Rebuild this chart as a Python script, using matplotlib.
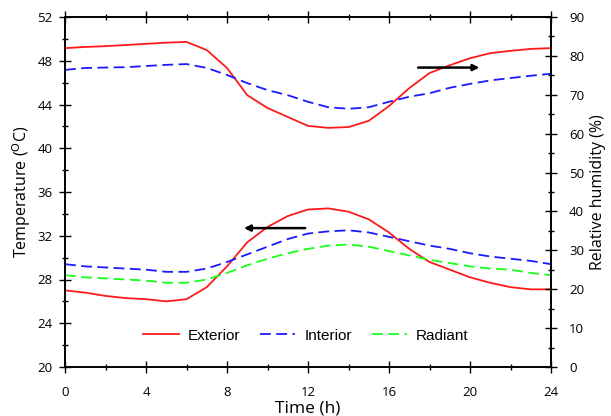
import matplotlib
matplotlib.use("Agg")
import matplotlib.pyplot as plt
from matplotlib.ticker import MultipleLocator

# Datos
horas = list(range(25))

temp_exterior = [27.0, 26.8, 26.5, 26.3, 26.2, 26.0, 26.2, 27.3, 29.2, 31.4, 32.8, 33.8, 34.4,
                 34.5, 34.2, 33.5, 32.3, 30.8, 29.6, 28.9, 28.2, 27.7, 27.3, 27.1, 27.1]
temp_interior = [29.4, 29.2, 29.1, 29.0, 28.9, 28.7, 28.7, 29.0, 29.6, 30.3, 31.0, 31.7, 32.2,
                 32.4, 32.5, 32.3, 31.9, 31.5, 31.1, 30.8, 30.4, 30.1, 29.9, 29.7, 29.4]
temp_radiante = [28.4, 28.2, 28.1, 28.0, 27.9, 27.7, 27.7, 28.0, 28.6, 29.3, 29.9, 30.4, 30.8,
                 31.1, 31.2, 31.0, 30.6, 30.2, 29.8, 29.5, 29.2, 29.0, 28.9, 28.6, 28.4]

hr_exterior = [82.0, 82.3, 82.5, 82.8, 83.1, 83.4, 83.6, 81.5, 76.9, 69.9, 66.6, 64.3, 62.0,
               61.5, 61.7, 63.3, 67.1, 71.7, 75.6, 77.6, 79.4, 80.7, 81.3, 81.8, 82.0]
hr_interior = [76.4, 76.9, 77.0, 77.1, 77.4, 77.7, 77.9, 76.9, 75.1, 73.0, 71.2, 69.9, 68.2,
               66.8, 66.4, 66.8, 68.2, 69.5, 70.4, 71.8, 72.8, 73.7, 74.3, 74.9, 75.4]

rojo = "#ff1a1a"
azul = "#1a1aff"
verde = "#1aff1a"

plt.rcParams["font.family"] = ["Open Sans", "DejaVu Sans"]

fig = plt.figure(figsize=(6.11, 4.16), dpi=100)
ax = fig.add_axes([0.1064, 0.1178, 0.7954, 0.8413])
ax2 = ax.twinx()

l1, = ax.plot(horas, temp_exterior, color=rojo, lw=1.3, label="Exterior")
l2, = ax.plot(horas, temp_interior, color=azul, lw=1.3, dashes=(6, 3), label="Interior")
l3, = ax.plot(horas, temp_radiante, color=verde, lw=1.3, dashes=(6, 3), label="Radiant")

ax2.plot(horas, hr_exterior, color=rojo, lw=1.3)
ax2.plot(horas, hr_interior, color=azul, lw=1.3, dashes=(6, 3))

# Flechas indicando el eje de cada grupo
ax.annotate("", xy=(8.7, 32.7), xytext=(12.0, 32.7),
            arrowprops=dict(arrowstyle="-|>", color="black", lw=1.8, mutation_scale=9))
ax2.annotate("", xy=(20.6, 77.0), xytext=(17.3, 77.0),
             arrowprops=dict(arrowstyle="-|>", color="black", lw=1.8, mutation_scale=9))

ax.set_xlim(0, 24)
ax.set_ylim(20, 52)
ax2.set_ylim(0, 90)

ax.xaxis.set_major_locator(MultipleLocator(4))
ax.xaxis.set_minor_locator(MultipleLocator(2))
ax.yaxis.set_major_locator(MultipleLocator(4))
ax.yaxis.set_minor_locator(MultipleLocator(2))
ax2.yaxis.set_major_locator(MultipleLocator(10))
ax2.yaxis.set_minor_locator(MultipleLocator(5))

ax.tick_params(which="both", direction="inout", top=True, labelsize=9.5, width=1)
ax.tick_params(which="major", length=8)
ax.tick_params(which="minor", length=5)
ax.tick_params(axis="x", which="both", pad=10)
ax.tick_params(axis="y", which="both", pad=5)
ax2.tick_params(which="both", direction="inout", labelsize=9.5, width=1, pad=9)
ax2.tick_params(which="major", length=8)
ax2.tick_params(which="minor", length=5)

for a in (ax, ax2):
    for s in a.spines.values():
        s.set_linewidth(1.2)

ax.set_xlabel("Time (h)", fontsize=12.5, labelpad=1)
ax.set_ylabel(r"Temperature ($^{\mathrm{O}}$C)", fontsize=11.5, labelpad=3)
ax2.set_ylabel("Relative humidity (%)", fontsize=11.5, labelpad=4)

ax.legend(handles=[l1, l2, l3], loc="center", bbox_to_anchor=(0.496, 0.089), ncol=3,
          frameon=False, handlelength=2.3, handletextpad=0.6, columnspacing=1.3,
          prop={"family": "Liberation Sans", "size": 11})

plt.savefig("out.png", dpi=100)
